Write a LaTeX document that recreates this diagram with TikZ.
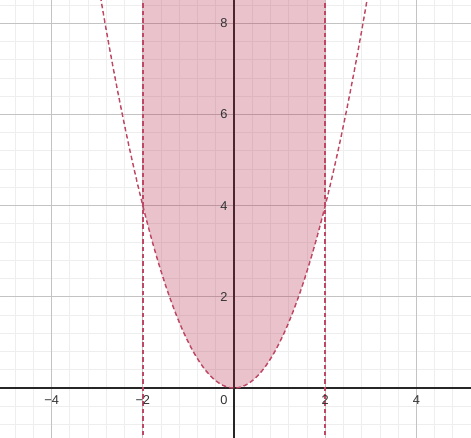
\documentclass[tikz,border=0pt]{standalone}
\usepackage{fontspec}
\setmainfont{Liberation Sans}
\definecolor{regionred}{RGB}{178,38,72}
\definecolor{majorgray}{RGB}{195,195,195}
\definecolor{minorgray}{RGB}{238,238,238}
\tikzset{
  minorgrid/.style={draw=minorgray, line width=0.5pt},
  majorgrid/.style={draw=majorgray, line width=0.6pt},
  axisline/.style={draw=black!85, line width=0.8pt},
  boundary/.style={draw=regionred!85, line width=0.9pt, dash pattern=on 2.8pt off 1.8pt},
  ticklabel/.style={font=\fontsize{8}{9.5}\selectfont, text=black!80, inner sep=1pt}
}
\begin{document}
\begin{tikzpicture}[x=1cm, y=1cm]
  \useasboundingbox (-5.132,-1.096) rectangle (5.197,8.509);
  \clip (-5.132,-1.096) rectangle (5.197,8.509);
  % grid
  \fill[white] (-5.2,-1.2) rectangle (5.3,8.6);
  \draw[minorgrid, step=0.4] (-5.2,-1.2) grid (5.3,8.6);
  \draw[majorgrid, step=2] (-5.2,-1.2) grid (5.3,8.6);
  % axes
  \draw[axisline] (-5.2,0) -- (5.3,0);
  \draw[axisline] (0,-1.2) -- (0,8.6);
  % region  -2 <= x <= 2, y >= x^2
  \fill[regionred, opacity=0.28] (-2,8.6) -- (-2,4)
    -- plot[domain=-2:2, samples=80, smooth] (\x,{\x*\x}) -- (2,8.6) -- cycle;
  % boundaries
  \draw[boundary] plot[domain=-2.93:2.93, samples=120, smooth] (\x,{\x*\x});
  \draw[boundary] (-2,-1.2) -- (-2,8.6);
  \draw[boundary] (2,-1.2) -- (2,8.6);
  % tick labels
  \node[ticklabel] (xm4) at (-4,-0.26) {−4};
  \node[ticklabel] (xm2) at (-2,-0.26) {−2};
  \node[ticklabel] (xp2) at (2,-0.26) {2};
  \node[ticklabel] (xp4) at (4,-0.26) {4};
  \node[ticklabel, anchor=east] (orig) at (-0.1,-0.26) {0};
  \node[ticklabel, anchor=east] (yp2) at (-0.1,2) {2};
  \node[ticklabel, anchor=east] (yp4) at (-0.1,4) {4};
  \node[ticklabel, anchor=east] (yp6) at (-0.1,6) {6};
  \node[ticklabel, anchor=east] (yp8) at (-0.1,8) {8};
\end{tikzpicture}
\end{document}
